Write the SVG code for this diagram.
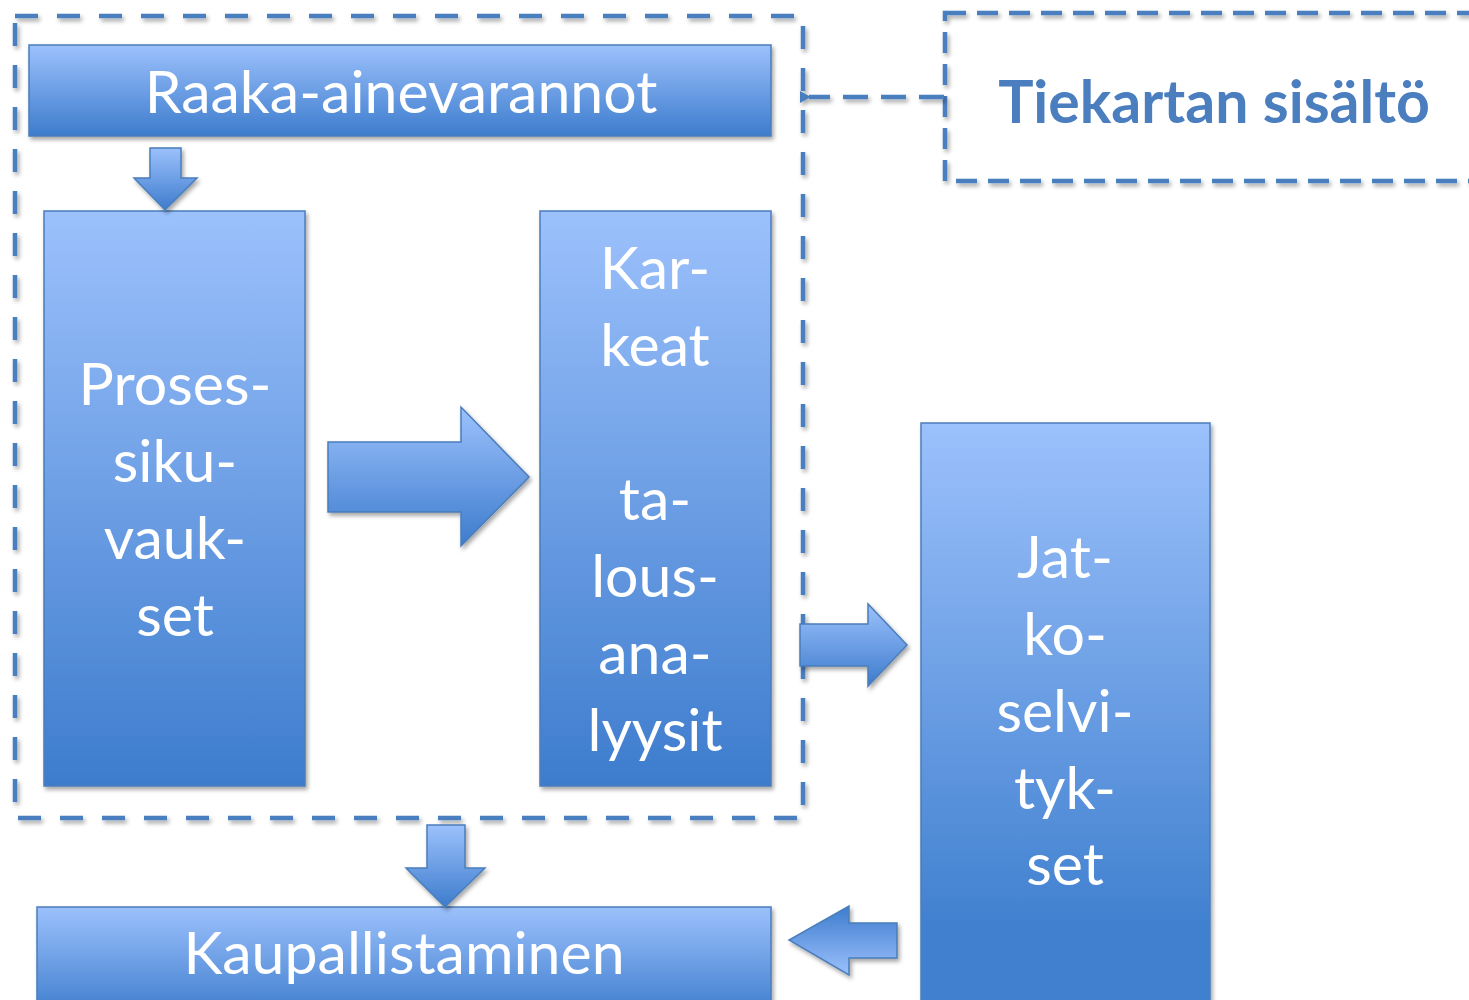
<svg xmlns="http://www.w3.org/2000/svg" width="1469" height="1000" viewBox="0 0 1469 1000">
<defs>
<linearGradient id="g" x1="0" y1="0" x2="0" y2="1">
<stop offset="0" stop-color="#9cc1fc"/>
<stop offset="1" stop-color="#3d7ccd"/>
</linearGradient>
<linearGradient id="gr" x1="0" y1="1" x2="0" y2="0">
<stop offset="0" stop-color="#9cc1fc"/>
<stop offset="1" stop-color="#3d7ccd"/>
</linearGradient>
<linearGradient id="gj" gradientUnits="userSpaceOnUse" x1="0" y1="423" x2="0" y2="930">
<stop offset="0" stop-color="#9cc1fc"/>
<stop offset="1" stop-color="#4080cf"/>
</linearGradient>
<filter id="sh" x="-10%" y="-10%" width="130%" height="130%">
<feDropShadow dx="2" dy="3" stdDeviation="2" flood-color="#000" flood-opacity="0.35"/>
</filter>
<filter id="shu" filterUnits="userSpaceOnUse" x="0" y="0" width="1469" height="1000">
<feDropShadow dx="2" dy="3" stdDeviation="2" flood-color="#000" flood-opacity="0.35"/>
</filter>
<marker id="ah" markerWidth="11" markerHeight="12" refX="2" refY="6" orient="auto" markerUnits="userSpaceOnUse" viewBox="0 0 11 12">
<path d="M11,0 L0,6 L11,12 Z" fill="#4a7ebf"/>
</marker>
<style>
.box{fill:url(#g);stroke:#4a7ebb;stroke-width:1.5;filter:url(#sh)}
.arr{fill:url(#g);stroke:#4a7ebb;stroke-width:1.5;filter:url(#sh)}
.t{font-family:Lato,"Open Sans",sans-serif;fill:#fff;font-size:59px;text-anchor:middle}
.dash{fill:none;stroke:#4a7ebf;stroke-width:4.5;filter:url(#shu)}
</style>
</defs>
<rect width="1469" height="1000" fill="#fff"/>

<g id="outer-frame">
<rect x="15" y="16" width="788" height="802" class="dash" stroke-dasharray="23 19"/>
</g>

<g id="tiekartan">
<rect x="945" y="13" width="540" height="168" class="dash" stroke-dasharray="21 11"/>
<text x="1214" y="123" font-family="Lato,'Open Sans',sans-serif" font-weight="bold" font-size="59" fill="#4a7ebf" text-anchor="middle">Tiekartan sisältö</text>
</g>

<g id="raaka">
<rect x="29" y="45" width="742" height="91" class="box"/>
<text x="401" y="113" class="t">Raaka-ainevarannot</text>
</g>

<g id="prosessi">
<rect x="44" y="211" width="261" height="575" class="box"/>
<text class="t"><tspan x="175" y="405">Proses-</tspan><tspan x="175" y="482">siku-</tspan><tspan x="175" y="559">vauk-</tspan><tspan x="175" y="636">set</tspan></text>
</g>

<g id="karkeat">
<rect x="540" y="211" width="231" height="575" class="box"/>
<text class="t"><tspan x="655" y="289">Kar-</tspan><tspan x="655" y="366">keat</tspan><tspan x="655" y="520">ta-</tspan><tspan x="655" y="597">lous-</tspan><tspan x="655" y="674">ana-</tspan><tspan x="655" y="751">lyysit</tspan></text>
</g>

<g id="jatko">
<rect x="921" y="423" width="289" height="600" fill="url(#gj)" stroke="#4a7ebb" stroke-width="1.5" filter="url(#sh)"/>
<text class="t"><tspan x="1065" y="578">Jat-</tspan><tspan x="1065" y="655">ko-</tspan><tspan x="1065" y="732">selvi-</tspan><tspan x="1065" y="809">tyk-</tspan><tspan x="1065" y="885">set</tspan></text>
</g>

<g id="kaupallistaminen">
<rect x="37" y="907" width="734" height="110" class="box"/>
<text x="404" y="974" class="t">Kaupallistaminen</text>
</g>

<g id="connectors">
<path class="arr" d="M150,148 H181 V178 H197 L165,210 L134,178 H150 Z"/>
<path class="arr" d="M328,442 H461 V407 L529,477 L461,546 V512 H328 Z"/>
<path class="arr" d="M800,624 H868 V604 L907,645 L868,686 V666 H800 Z"/>
<path class="arr" d="M427,825 H465 V868 H485 L445,907 L406,868 H427 Z"/>
<path d="M897,923 H849 V906 L789,940 L849,975 V958 H897 Z" fill="url(#gr)" stroke="#4a7ebb" stroke-width="1.5" filter="url(#sh)"/>
<path d="M944,97 H809" class="dash" stroke-dasharray="25 13" marker-end="url(#ah)"/>
</g>
</svg>
